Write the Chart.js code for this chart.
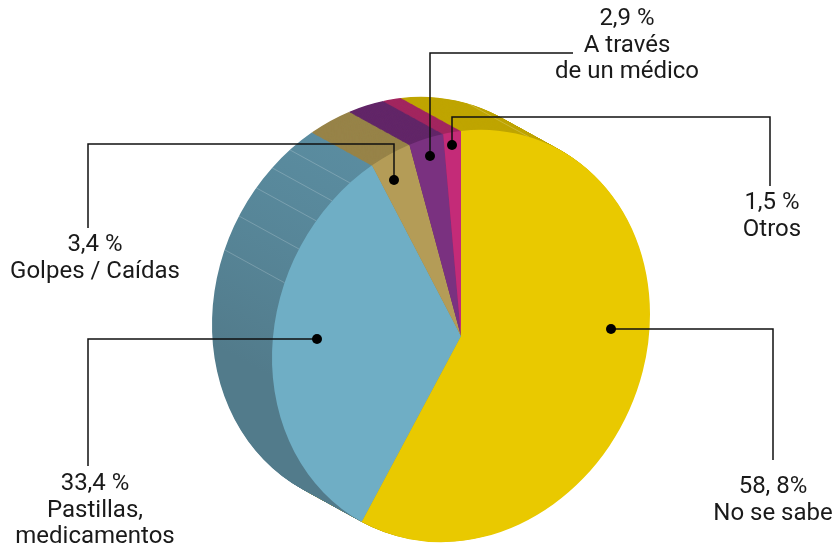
<!DOCTYPE html>
<html>
<head>
<meta charset="utf-8">
<style>
  html, body { margin: 0; padding: 0; background: #fff; }
  #wrap { position: relative; width: 835px; height: 547px; }
</style>
<script src="https://cdn.jsdelivr.net/npm/chart.js@4"></script>
</head>
<body>
<div id="wrap"><canvas id="grafico"></canvas></div>
<script>
const categorias = ['No se sabe', 'Pastillas, medicamentos', 'Golpes / Caídas', 'A través de un médico', 'Otros'];
const valores = [58.8, 33.4, 3.4, 2.9, 1.5];
const coloresCara = ['#e9c900', '#6faec5', '#b49c57', '#7a3180', '#c42b78'];
const coloresLado = ['#bfa500', '#527b8b', '#978348', '#622668', '#a2265f'];

// rayas claras del canto, en grados desde las 12
const rayasCanto = [21, 291, 301, 310, 317, 324];

// forma de la tarta: la cara se inclina y el canto se extruye hacia arriba a la izquierda
const radio = 204;
const ejeX = [189 / radio, -21.7 / radio];
const ejeY = [0, 1.005];
const extrusion = [-60, -33];
const pasos = 70;

const etiquetas = [
    { punto: [611, 329], linea: [[773, 329], [773, 460]], x: 773, y: 487, textos: ['58, 8%', 'No se sabe'] },
    { punto: [317, 339], linea: [[88, 339], [88, 466]], x: 95, y: 484, textos: ['33,4 %', 'Pastillas,', 'medicamentos'] },
    { punto: [394, 180], linea: [[394, 144], [88, 144], [88, 228]], x: 95, y: 245, textos: ['3,4 %', 'Golpes / Caídas'] },
    { punto: [430, 156], linea: [[430, 53], [573, 53]], x: 627, y: 19, textos: ['2,9 %', 'A través', 'de un médico'] },
    { punto: [452, 145], linea: [[452, 117], [770, 117], [770, 186]], x: 772, y: 203, textos: ['1,5 %', 'Otros'] }
];

function aplicarForma(ctx, arco, dx, dy) {
    ctx.translate(arco.x + dx, arco.y + dy);
    ctx.transform(ejeX[0], ejeX[1], ejeY[0], ejeY[1], 0, 0);
    ctx.translate(-arco.x, -arco.y);
}

const tarta3d = {
    id: 'tarta3d',
    beforeDatasetsDraw(chart) {
        const ctx = chart.ctx;
        const arcos = chart.getDatasetMeta(0).data;
        const centro = arcos[0];

        // canto: copias desplazadas, de la mas lejana a la mas cercana
        for (let i = pasos; i >= 1; i--) {
            ctx.save();
            aplicarForma(ctx, centro, extrusion[0] * i / pasos, extrusion[1] * i / pasos);
            arcos.forEach((arco, n) => {
                const opciones = arco.options;
                let color = coloresLado[n];
                if (n === 1) {
                    color = ctx.createLinearGradient(0, arco.y - radio, 0, arco.y + radio * 0.1);
                    color.addColorStop(0, '#5b8ea2');
                    color.addColorStop(1, coloresLado[1]);
                }
                arco.options = { ...opciones, backgroundColor: color };
                arco.draw(ctx);
                arco.options = opciones;
            });
            ctx.restore();
        }

        // rayas del canto, calculadas sobre el borde de la tarta
        ctx.save();
        ctx.strokeStyle = 'rgba(255,255,255,0.2)';
        ctx.lineWidth = 1;
        rayasCanto.forEach(grados => {
            const a = grados * Math.PI / 180;
            const u = Math.sin(a) * radio, v = -Math.cos(a) * radio;
            const x = centro.x + ejeX[0] * u + ejeY[0] * v;
            const y = centro.y + ejeX[1] * u + ejeY[1] * v;
            ctx.beginPath();
            ctx.moveTo(x, y);
            ctx.lineTo(x + extrusion[0], y + extrusion[1]);
            ctx.stroke();
        });
        ctx.restore();

        // la cara la pinta Chart.js con la misma forma
        ctx.save();
        aplicarForma(ctx, centro, 0, 0);
    },
    afterDatasetsDraw(chart) {
        chart.ctx.restore();
    },
    afterDraw(chart) {
        const ctx = chart.ctx;
        ctx.save();
        etiquetas.forEach(et => {
            ctx.strokeStyle = '#111';
            ctx.lineWidth = 1.5;
            ctx.beginPath();
            ctx.moveTo(et.punto[0], et.punto[1]);
            et.linea.forEach(p => ctx.lineTo(p[0], p[1]));
            ctx.stroke();

            ctx.fillStyle = '#000';
            ctx.beginPath();
            ctx.arc(et.punto[0], et.punto[1], 5, 0, Math.PI * 2);
            ctx.fill();

            ctx.fillStyle = '#1a1a1a';
            ctx.font = '24px Roboto';
            ctx.textAlign = 'center';
            ctx.textBaseline = 'middle';
            et.textos.forEach((t, i) => ctx.fillText(t, et.x, et.y + i * 26.5));
        });
        ctx.restore();
    }
};

new Chart(document.getElementById('grafico'), {
    type: 'pie',
    data: {
        labels: categorias,
        datasets: [{
            data: valores,
            backgroundColor: coloresCara,
            borderWidth: 0,
            clip: false,
            radius: radio
        }]
    },
    options: {
        responsive: true,
        maintainAspectRatio: false,
        animation: false,
        layout: { padding: { left: 87, top: 125 } },
        plugins: { legend: { display: false }, tooltip: { enabled: false } }
    },
    plugins: [tarta3d]
});
</script>
</body>
</html>
